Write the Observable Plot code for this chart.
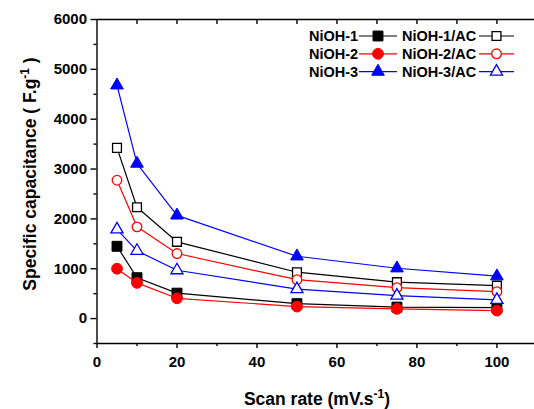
<!DOCTYPE html>
<html><head><meta charset="utf-8">
<script src="https://cdn.jsdelivr.net/npm/d3@7"></script>
<script src="https://cdn.jsdelivr.net/npm/@observablehq/plot@0.6"></script>
<style>
html,body{margin:0;padding:0;background:#fff;}
#chart svg{display:block;}
</style></head><body><div id="chart"></div>
<script>
// ---- data ----
const scanRates = [5, 10, 20, 50, 75, 100];
const seriesNames = ["NiOH-1", "NiOH-2", "NiOH-3", "NiOH-1/AC", "NiOH-2/AC", "NiOH-3/AC"];
const niOH1   = [1450, 820, 510, 300, 230, 220];
const niOH2   = [1000, 716, 407, 240, 195, 160];
const niOH3   = [4680, 3110, 2070, 1250, 1010, 850];
const niOH1AC = [3424, 2233, 1540, 930, 730, 660];
const niOH2AC = [2775, 1840, 1305, 780, 620, 540];
const niOH3AC = [1790, 1360, 970, 590, 460, 375];
const xMajorTicks = [0, 20, 40, 60, 80, 100];
const xMinorTicks = [10, 30, 50, 70, 90];
const xTopTicks = [10, 20, 30, 40, 50, 60, 70, 80, 90, 100];
const yMajorTicks = [0, 1000, 2000, 3000, 4000, 5000, 6000];
const yMinorTicks = [-500, 500, 1500, 2500, 3500, 4500, 5500];
const xTitle = "Scan rate (mV.s";
const yTitle = "Specific capacitance ( F.g";

// ---- styles ----
const seriesValues = [niOH1, niOH2, niOH3, niOH1AC, niOH2AC, niOH3AC];
const styles = [
  {color: "#000000", symbol: "square",   filled: true,  r: 5.6},
  {color: "#ff0000", symbol: "circle",   filled: true,  r: 5.4},
  {color: "#0000ff", symbol: "triangle", filled: true,  r: 4.7},
  {color: "#000000", symbol: "square",   filled: false, r: 5.0},
  {color: "#ff0000", symbol: "circle",   filled: false, r: 4.8},
  {color: "#0000ff", symbol: "triangle", filled: false, r: 4.5}
];

const rows = seriesNames.flatMap((name, i) =>
  scanRates.map((rate, j) => ({series: name, rate, cap: seriesValues[i][j]})));

const font = "'Liberation Sans', Arial, Helvetica, sans-serif";
const marks = [
  Plot.ruleY([6000], {stroke: "black", strokeWidth: 1.4}),
  Plot.ruleY([-500], {stroke: "black", strokeWidth: 1.4}),
  Plot.ruleX([0], {stroke: "black", strokeWidth: 1.4}),
  Plot.axisY({ticks: yMajorTicks, tickSize: 6, tickPadding: 4, tickFormat: d => String(d), fontSize: 15, fontWeight: "bold", label: null, strokeWidth: 1.4}),
  Plot.axisY({ticks: yMinorTicks, tickSize: 3, tickFormat: () => "", label: null, strokeWidth: 1.4}),
  Plot.axisX({ticks: xMajorTicks, tickSize: 5, tickPadding: 8, tickFormat: d => String(d), fontSize: 15, fontWeight: "bold", label: null, strokeWidth: 1.4}),
  Plot.axisX({ticks: xMinorTicks, tickSize: 3, tickFormat: () => "", label: null, strokeWidth: 1.4}),
  Plot.axisX({anchor: "top", ticks: xTopTicks, tickSize: -4, tickFormat: () => "", label: null, strokeWidth: 1.4})
];
seriesNames.forEach((name, i) => {
  const s = styles[i];
  const data = rows.filter(d => d.series === name);
  marks.push(Plot.line(data, {x: "rate", y: "cap", stroke: s.color, strokeWidth: 1.2}));
  marks.push(Plot.dot(data, {x: "rate", y: "cap", symbol: s.symbol, r: s.r,
    fill: s.filled ? s.color : "white", stroke: s.color, strokeWidth: s.filled ? 1 : 1.3}));
});

const chart = Plot.plot({
  width: 534, height: 409,
  marginLeft: 96.5, marginRight: 0, marginTop: 19, marginBottom: 66,
  x: {domain: [0, 109.4]},
  y: {domain: [-500, 6000]},
  style: {fontFamily: font, fontWeight: "bold", color: "black", background: "white", overflow: "visible"},
  marks
});
document.getElementById("chart").appendChild(chart);

// ---- titles with superscripts ----
const svg = d3.select(chart);
const xt = svg.append("text").attr("x", 317).attr("y", 405).attr("text-anchor", "middle")
  .attr("font-family", font).attr("font-weight", "bold").attr("font-size", 17.5).attr("fill", "black");
xt.append("tspan").text(xTitle);
xt.append("tspan").attr("font-size", 12).attr("dy", -7).text("-1");
xt.append("tspan").attr("dy", 7).text(")");

const yt = svg.append("text").attr("transform", "translate(35.5,174) rotate(-90)").attr("text-anchor", "middle")
  .attr("font-family", font).attr("font-weight", "bold").attr("font-size", 17.5).attr("fill", "black");
yt.append("tspan").text(yTitle);
yt.append("tspan").attr("font-size", 12).attr("dy", -7).text("-1");
yt.append("tspan").attr("dy", 7).text(" )");

// ---- legend ----
const legendCols = [{textX: 309, lineX1: 359, lineX2: 397}, {textX: 402, lineX1: 479, lineX2: 514}];
const legendRowY = [36, 53.8, 71.6];
const symbolType = {square: d3.symbolSquare, circle: d3.symbolCircle, triangle: d3.symbolTriangle};
seriesNames.forEach((name, i) => {
  const s = styles[i];
  const col = legendCols[Math.floor(i / 3)];
  const y = legendRowY[i % 3];
  const g = svg.append("g");
  g.append("text").attr("x", col.textX).attr("y", y).attr("dy", "0.36em").attr("text-anchor", "start")
    .attr("font-family", font).attr("font-weight", "bold").attr("font-size", 14.5).attr("fill", "black").text(name);
  g.append("line").attr("x1", col.lineX1).attr("x2", col.lineX2).attr("y1", y).attr("y2", y)
    .attr("stroke", s.color).attr("stroke-width", 1.2);
  g.append("path").attr("transform", `translate(${(col.lineX1 + col.lineX2) / 2},${y})`)
    .attr("d", d3.symbol(symbolType[s.symbol], Math.PI * s.r * s.r)())
    .attr("fill", s.filled ? s.color : "white").attr("stroke", s.color).attr("stroke-width", s.filled ? 1 : 1.3);
});
</script>
</body></html>
